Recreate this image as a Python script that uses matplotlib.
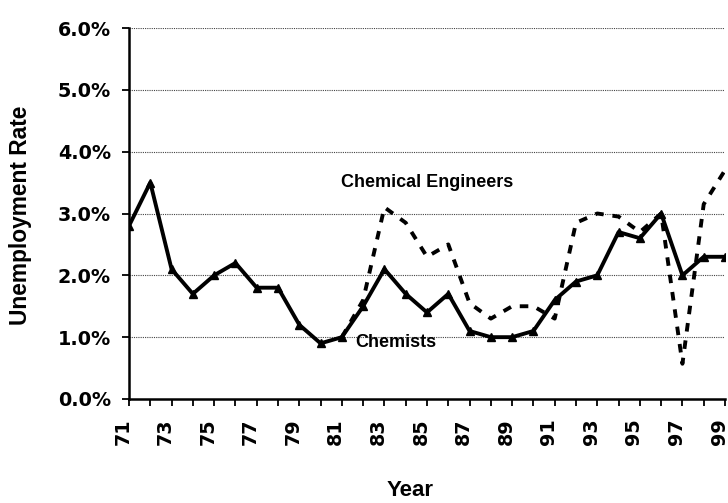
import matplotlib
matplotlib.use("Agg")
import matplotlib.pyplot as plt
import matplotlib.transforms as mtransforms

years = list(range(71, 100))
chemists = [2.8, 3.5, 2.1, 1.7, 2.0, 2.2, 1.8, 1.8, 1.2, 0.9, 1.0, 1.5, 2.1, 1.7, 1.4,
            1.7, 1.1, 1.0, 1.0, 1.1, 1.6, 1.9, 2.0, 2.7, 2.6, 3.0, 2.0, 2.3, 2.3]
ce_years = list(range(81, 100))
chem_engineers = [1.0, 1.6, 3.1, 2.85, 2.3, 2.5, 1.55, 1.3, 1.5, 1.5, 1.3, 2.85, 3.0,
                  2.95, 2.7, 3.0, 0.57, 3.15, 3.7]
ytick_vals = [0, 1, 2, 3, 4, 5, 6]
ytick_labels = ["0.0%", "1.0%", "2.0%", "3.0%", "4.0%", "5.0%", "6.0%"]
xtick_labels = [str(y) for y in range(71, 100, 2)]

plt.rcParams['font.family'] = ['Liberation Sans', 'DejaVu Sans']
fig = plt.figure(figsize=(7.28, 5.03), dpi=100)
ax = fig.add_axes([129/728, 1-399/503, (725-129)/728, (399-28)/503])

ax.plot(ce_years, chem_engineers, color='black', lw=2.8, linestyle=(0, (2.2, 2.3)),
        dash_capstyle='butt')
ax.plot(years, chemists, color='black', lw=2.8, marker='^', markersize=5.5,
        markerfacecolor='black')

ax.set_xlim(71, 99)
ax.set_ylim(0, 6)
ax.set_yticks(ytick_vals)
ax.set_yticklabels(ytick_labels, fontsize=13.8, fontweight='bold', family='DejaVu Sans')
ax.set_xticks(list(range(71, 100)), minor=True)
ax.set_xticks(list(range(71, 100, 2)))
ax.set_xticklabels(xtick_labels, rotation=90, fontsize=13.8, fontweight='bold',
                   family='DejaVu Sans')
ax.tick_params(axis='x', which='both', direction='out', length=5, width=1.3, pad=9)
ax.tick_params(axis='y', direction='out', length=5, width=1.3, pad=8)

shift = mtransforms.ScaledTranslation(-6/100, 0, fig.dpi_scale_trans)
for lab in ax.get_xticklabels():
    lab.set_transform(lab.get_transform() + shift)

for v in ytick_vals[1:]:
    ax.axhline(v, color='#444444', lw=0.8, linestyle=(0, (1, 1)), zorder=0)

for s in ['top', 'right']:
    ax.spines[s].set_visible(False)
ax.spines['left'].set_linewidth(1.8)
ax.spines['bottom'].set_linewidth(1.8)

ax.text(85.0, 3.5, "Chemical Engineers", fontsize=13, fontweight='bold', ha='center', va='center')
ax.text(83.54, 0.92, "Chemists", fontsize=13, fontweight='bold', ha='center', va='center')

fig.text(21/728, 1-215/503, "Unemployment Rate", rotation=90, fontsize=16.4,
         fontweight='bold', ha='center', va='center')
fig.text(410/728, 1-490/503, "Year", fontsize=16, fontweight='bold', ha='center', va='center')

fig.savefig("out.png", dpi=100)
